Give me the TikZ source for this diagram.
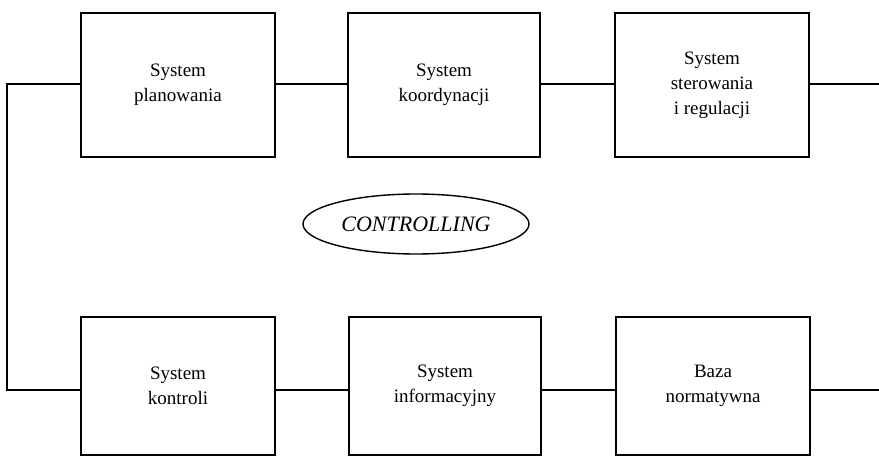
\documentclass[tikz,border=0pt]{standalone}
\usepackage{fontspec}
\setmainfont{Liberation Serif}
\usetikzlibrary{shapes.geometric}
\begin{document}
\begin{tikzpicture}[x=1pt,y=-1pt,
  sysbox/.style={draw,line width=1.6pt,minimum width=#1,inner sep=0pt,align=center,font=\fontsize{19}{25}\selectfont},
  link/.style={line width=1.6pt}]
\useasboundingbox (0,0) rectangle (879,465);
% top row
\node[sysbox=194pt,minimum height=144pt] (p) at (178,85) {System\\planowania};
\node[sysbox=192pt,minimum height=144pt] (k) at (444,85) {System\\koordynacji};
\node[sysbox=194pt,minimum height=144pt] (s) at (712,85) {System\\sterowania\\i regulacji};
% bottom row
\node[sysbox=194pt,minimum height=138pt] (c) at (178,386) {System\\kontroli};
\node[sysbox=192pt,minimum height=138pt] (i) at (445,386) {System\\informacyjny};
\node[sysbox=194pt,minimum height=138pt] (b) at (713,386) {Baza\\normatywna};
% ellipse
\node[draw,ellipse,line width=1.4pt,minimum width=226pt,minimum height=60pt,inner sep=0pt,font=\fontsize{22}{26}\selectfont\itshape] (ctl) at (416,224) {CONTROLLING};
% connectors
\coordinate (tr) at (879,84);
\coordinate (br) at (879,390);
\coordinate (tl) at (7,84);
\coordinate (bl) at (7,390);
\draw[link] (p.east |- 0,84) -- (k.west |- 0,84);
\draw[link] (k.east |- 0,84) -- (s.west |- 0,84);
\draw[link] (s.east |- 0,84) -- (tr);
\draw[link] (c.east |- 0,390) -- (i.west |- 0,390);
\draw[link] (i.east |- 0,390) -- (b.west |- 0,390);
\draw[link] (b.east |- 0,390) -- (br);
\draw[link] (p.west |- 0,84) -- (tl) -- (bl) -- (c.west |- 0,390);
\end{tikzpicture}
\end{document}
